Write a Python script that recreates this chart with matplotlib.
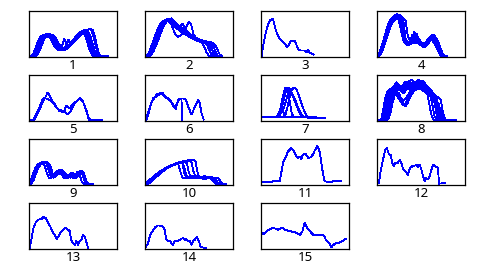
import matplotlib
matplotlib.use('Agg')
import matplotlib.pyplot as plt


# ---- data: each panel is a list of curves, y in % of panel height,
# x in sample index (40 samples span the panel width)

p1 = [
    [2,2,8,20,33,44,47,46,48,45,40,30,22,17,15,16,18,21,26,31,37,43,48,53,56,52,40,24,10,3,2,2,2,2],
    [2,2,3,10,22,36,45,49,47,46,48,42,32,24,19,17,18,20,23,28,34,40,46,51,55,58,54,42,26,11,3,2,2,2,2],
    [2,2,2,4,12,25,38,47,50,48,49,46,38,28,21,18,19,21,25,30,35,42,47,52,56,58,60,52,36,18,6,2,2,2,2,2],
    [2,2,2,2,6,15,28,40,48,51,49,47,44,34,25,20,19,22,24,28,33,38,44,50,54,57,59,55,44,28,12,4,2,2,2,2],
    [2,2,2,5,16,30,42,47,46,47,44,38,28,21,18,17,19,26,38,30,34,40,45,50,53,55,57,60,62,50,30,12,3,2,2,2,2],
    [2,2,4,14,27,40,46,44,46,44,38,28,20,16,17,24,40,30,24,30,36,42,47,52,55,54,46,30,14,4,2,2,2,2],
    [2,2,2,7,17,30,40,44,43,45,42,36,28,21,16,14,15,17,21,25,30,36,41,46,50,53,50,40,25,10,3,2,2,2,2,2],
    [2,2,2,3,10,22,34,44,48,46,47,45,38,30,23,19,18,20,23,27,32,37,42,46,50,54,57,60,62,58,44,20,5,2,2,2],
]

p2 = [
    [2,3,10,22,35,48,60,70,77,80,82,80,76,71,66,62,58,55,52,48,45,42,40,38,36,35,34,33,30,20,8,2,2],
    [2,2,5,15,27,40,52,63,72,78,81,83,79,75,70,65,61,57,54,50,47,44,41,39,37,35,34,33,32,30,22,10,3,2],
    [2,2,3,8,18,30,42,55,66,74,79,84,81,77,72,68,63,59,56,52,49,46,43,40,38,36,35,34,33,32,31,25,12,3,2],
    [2,2,4,14,26,38,50,61,70,76,80,78,70,58,48,44,46,52,60,68,76,70,50,42,38,35,33,31,28,18,6,2],
    [2,2,6,17,30,43,56,66,74,79,82,80,76,72,67,64,68,73,64,57,52,48,44,41,39,37,35,34,33,31,24,10,3,2],
    [2,4,12,25,38,52,63,72,78,80,79,76,72,68,64,60,56,53,50,47,44,41,39,37,35,33,30,22,10,3,2],
    [2,2,2,6,14,25,37,50,62,72,78,82,84,80,75,70,66,62,58,54,51,48,45,42,40,38,36,35,34,33,32,30,26,15,5,2],
]

p4 = [
    [2,8,22,38,55,70,80,85,88,84,80,60,38,30,28,32,45,40,34,30,28,26,30,38,44,40,36,30,15,4,2,2],
    [2,4,15,30,46,62,75,84,90,92,86,82,50,34,30,27,34,52,44,36,30,27,25,32,42,47,38,32,20,6,2,2],
    [2,3,10,24,40,55,68,78,86,94,90,85,78,40,32,28,30,36,50,38,31,28,26,29,36,45,48,34,24,10,3,2],
    [2,6,18,34,50,64,76,82,80,85,82,70,42,33,30,34,48,38,32,28,25,22,26,35,42,38,30,22,12,3,2],
    [2,2,8,20,35,50,64,74,82,88,92,88,84,80,45,35,32,30,34,40,33,29,27,30,38,46,44,40,32,18,6,2,2],
    [2,5,14,28,44,58,72,80,84,88,78,55,36,28,25,28,40,55,42,34,28,24,22,27,34,40,46,40,28,8,2,2],
]

p7 = [
    [8,8,8,8,8,8,8,8,10,30,55,72,70,45,15,9,8,8,8,8,8],
    [8,8,8,8,8,8,8,8,9,18,40,60,72,71,60,48,36,24,14,9,8,8,8,8,8,7,7],
    [8,8,8,8,8,8,8,8,8,8,8,12,30,52,68,73,70,58,44,30,18,10,8,8,8,8,7,7,7,7],
    [8,8,8,8,8,8,8,8,18,26,22,38,55,65,62,52,40,28,18,10,8,8,8,8,8],
    [8,8,8,8,8,8,8,8,14,30,22,10,8,8,8,8,8,8,8,8,8,8,6,6,6,6,6,6,6],
]

p8 = [
    [2,2,4,20,45,62,70,68,74,72,78,75,80,76,82,85,80,84,78,86,82,76,72,68,60,40,12,3,2,2,2,2,2,2,2,2],
    [2,2,2,6,25,50,66,72,70,66,72,76,74,80,84,88,90,82,78,80,84,88,80,74,70,64,50,20,4,2,2,2,2,2,2,2],
    [2,2,2,2,10,35,58,68,62,55,48,40,35,38,50,62,70,66,74,78,72,76,70,68,64,58,52,30,8,2,2,2,2,2],
    [2,2,2,2,3,15,40,60,66,72,76,70,66,72,78,82,76,80,86,90,84,78,74,70,66,62,56,48,20,4,2,2,2,2],
    [2,2,2,2,2,6,28,52,64,60,56,50,44,48,56,64,72,68,74,80,76,72,68,64,60,56,50,44,38,12,3,2,2,2,2,2,2],
    [2,2,5,30,55,66,64,70,76,72,68,74,80,86,82,78,84,80,76,72,70,66,62,58,30,8,2,2,2,2],
    [2,2,2,4,18,42,60,70,74,80,76,72,78,74,70,76,82,78,74,70,72,68,64,60,56,52,44,16,3,2,2,2],
    [2,2,2,2,2,4,14,38,56,64,60,48,36,32,40,52,60,66,72,70,76,80,74,70,66,62,58,54,50,46,18,4,2,2,2,2],
    [2,2,2,3,12,38,60,72,78,84,78,74,70,76,80,74,70,78,84,78,72,68,64,60,55,50,42,36,10,2,2,2,2,2,2,2],
    [2,2,2,2,6,22,48,64,68,66,70,64,60,66,74,70,76,72,68,74,70,66,62,58,54,50,46,40,32,24,8,2,2,2,2,2,2],
]

p9 = [
    [2,10,22,34,43,48,50,49,47,32,18,20,25,29,31,28,24,17,20,25,22,18,24,30,28,12,2,2,2],
    [2,5,15,28,38,46,49,50,48,44,24,16,22,27,32,30,26,20,16,22,26,20,22,28,31,20,4,2,2,2],
    [2,3,10,22,34,43,47,49,50,47,38,20,18,24,28,32,28,22,18,16,24,18,26,24,30,26,8,2,2,2],
    [3,12,26,38,45,47,46,44,28,16,14,20,26,29,26,22,15,18,22,18,15,22,28,24,6,2],
    [2,6,18,30,40,46,48,50,46,36,20,22,27,31,33,29,25,19,21,26,20,16,20,27,29,14,3,2,2,2],
    [2,4,12,25,36,44,48,51,49,45,30,18,20,23,26,24,20,14,18,22,17,14,18,25,26,18,5,2,2,2],
]

p10 = [
    [2,4,8,13,17,21,25,29,32,35,38,40,42,44,46,47,30,16,15,16,17,16,15,16,17,16,15,14,15,16,14,8,3,2,2,2,2],
    [2,3,6,10,15,19,23,27,31,34,37,40,42,44,46,48,49,50,36,18,14,16,17,18,17,16,17,18,17,16,15,14,6,2,2,2,2],
    [2,2,4,8,12,17,21,25,29,33,36,39,42,44,46,48,50,51,50,48,26,17,16,15,17,18,16,15,16,17,18,16,12,4,2,2,2],
    [2,3,7,12,16,20,24,28,31,35,38,41,43,45,47,49,50,51,52,53,55,52,30,18,16,15,14,15,17,16,15,14,15,16,10,3,2,2],
    [3,6,11,15,19,23,27,30,33,36,39,41,43,45,47,48,49,47,22,19,18,19,20,19,18,17,18,19,18,17,16,10,3,2,2],
    [2,2,5,9,14,18,22,26,30,33,36,39,41,43,45,47,48,49,50,51,52,54,55,50,24,16,14,13,14,15,14,13,12,6,2,2,2,2],
]

# panels with few curves: explicit x (sample index) and y
p3_x = [0.3,1.2,2.1,3.2,4.2,5.2,5.6,5.9,6.7,7.4,8.5,9.2,9.7,10.8,11.8,12.7,13.5,14.1,14.5,15.3,16.1,16.8,18.3,19.8,20.6,21.4,22.1,23.3,23.9]
p3_y = [3,30,52,70,80,83,80,74,59,49,39,36,34,29,21,27,36,34,34,36,27,17,14,14,10,16,9,7,5]

p5a_x = [0,1.8,3.3,4.8,6.3,7.3,8.5,9.3,10.0,11.5,13.8,15.3,16.0,16.8,17.8,18.7,19.8,22.0,23.2,24.3,25.8,27.3,28.0,33.3]
p5a_y = [2,2,15,30,48,50,62,55,48,36,22,20,19,33,30,28,37,44,51,45,26,1,3,3]
p5b_x = [0,2.2,3.3,4.8,7.0,8.2,10.0,11.5,13.0,15.3,17.5,19.0,20.5,22.0,23.2,24.7,26.2,27.3,29.5]
p5b_y = [2,2,10,25,50,48,44,38,26,22,15,22,37,44,50,40,22,4,2]

p6a_x = [0.3,2.3,3.8,5.3,6.5,7.2,8.3,9.1,10.3,11.3,12.8,13.9,15.1,16.2,17.4,18.6,19.6,21.1,21.9,23.1,24.2,24.9,25.7,26.7]
p6a_y = [3,32,50,54,58,62,56,54,50,46,36,26,46,49,49,46,32,14,22,36,46,38,17,3]
p6b_x = [0.75,1.8,3.0,4.5,5.6,6.8,8.0,9.1,10.6,12.1,13.1,14.3,15.5,16.6,16.8]
p6b_y = [3,20,42,52,60,58,62,52,48,40,30,35,48,47,2]

p11_x = [0,4.7,5.0,5.5,8.5,9.2,10.0,11.1,12.3,13.8,14.8,16.1,16.8,17.6,18.3,19.1,20.2,21.4,22.4,23.6,24.4,25.5,26.4,27.0,27.9,28.9,32.0,32.7,36.5]
p11_y = [7,7,6,8,8,26,48,59,73,80,75,62,59,62,57,66,68,59,60,66,75,84,78,62,33,8,6,8,8]

p12_x = [0.15,0.9,1.5,2.7,3.8,4.5,5.5,6.2,7.0,7.6,8.5,9.5,10.3,11.1,11.8,13.3,14.1,14.8,15.6,16.4,17.1,17.9,18.6,19.4,20.2,20.9,21.7,22.4,23.2,23.9,24.7,25.5,26.2,27.0,27.7,28.2,30.8]
p12_y = [4,4,26,55,77,80,66,66,48,41,49,48,54,48,35,28,22,35,39,42,42,44,39,44,33,19,8,15,12,19,33,44,42,39,37,3,4]

p13_x = [0.3,1.1,1.8,2.6,3.3,4.5,5.6,6.7,7.6,8.2,9.1,9.7,10.6,11.7,12.7,13.6,14.7,15.8,16.7,17.7,18.5,19.2,20.0,20.8,21.5,22.3,23.0,23.8,24.5,25.3,25.8,26.4,27.0]
p13_y = [2,20,42,53,60,64,65,70,67,62,53,49,38,31,22,29,38,43,46,42,39,20,13,9,17,9,17,20,31,27,20,9,2]

p14_x = [0.15,1.4,2.4,3.3,4.4,5.5,6.7,8.2,8.9,9.7,10.5,11.2,12.0,12.7,13.5,15.0,16.5,17.3,18.0,18.8,19.5,20.3,21.1,21.8,22.6,23.6,24.5,25.3,27.9]
p14_y = [2,13,31,38,46,51,51,49,42,20,17,18,13,9,18,18,22,24,20,22,17,18,9,17,20,26,17,4,2]

p15_x = [0,1.2,2.4,3.9,5.5,6.7,7.7,8.5,9.7,10.8,12.3,13.8,15.3,16.8,17.9,18.8,19.8,20.6,21.7,22.9,23.9,25.2,26.7,28.2,28.9,29.7,30.9,32.0,32.7,33.8,35.0,36.2,37.3,38.5]
p15_y = [35,33,38,43,46,44,42,44,46,42,40,38,37,33,31,38,57,49,42,35,30,31,31,31,26,18,13,4,8,12,13,15,18,22]

labels = ['1','2','3','4','5','6','7','8','9','10','11','12','13','14','15']


def grid_curves(curves):
    return [(list(range(len(c))), c) for c in curves]


panels = [
    grid_curves(p1),
    grid_curves(p2),
    [(p3_x, p3_y)],
    grid_curves(p4),
    [(p5a_x, p5a_y), (p5b_x, p5b_y)],
    [(p6a_x, p6a_y), (p6b_x, p6b_y)],
    grid_curves(p7),
    grid_curves(p8),
    grid_curves(p9),
    grid_curves(p10),
    [(p11_x, p11_y)],
    [(p12_x, p12_y)],
    [(p13_x, p13_y)],
    [(p14_x, p14_y)],
    [(p15_x, p15_y)],
]

W, H = 488, 274
lefts = [29, 145, 261, 377]
tops = [11, 75, 139, 203]
aw, ah = 88, 46

fig = plt.figure(figsize=(W / 100, H / 100), dpi=100)

for k, curves in enumerate(panels):
    r, c = divmod(k, 4)
    ax = fig.add_axes([lefts[c] / W, 1 - (tops[r] + ah) / H, aw / W, ah / H])
    for x, y in curves:
        ax.plot(x, y, color='#0000ff', lw=0.6, antialiased=False)
    ax.set_xlim(0, 40)
    ax.set_ylim(0, 100)
    ax.set_xticks([])
    ax.set_yticks([])
    for s in ax.spines.values():
        s.set_linewidth(0.9)
        s.set_color('black')
    ax.text(0.5, -0.18, labels[k], transform=ax.transAxes, ha='center', va='center',
            fontsize=9.5, family='Noto Sans', color='black')

fig.savefig('out.png', dpi=100)
